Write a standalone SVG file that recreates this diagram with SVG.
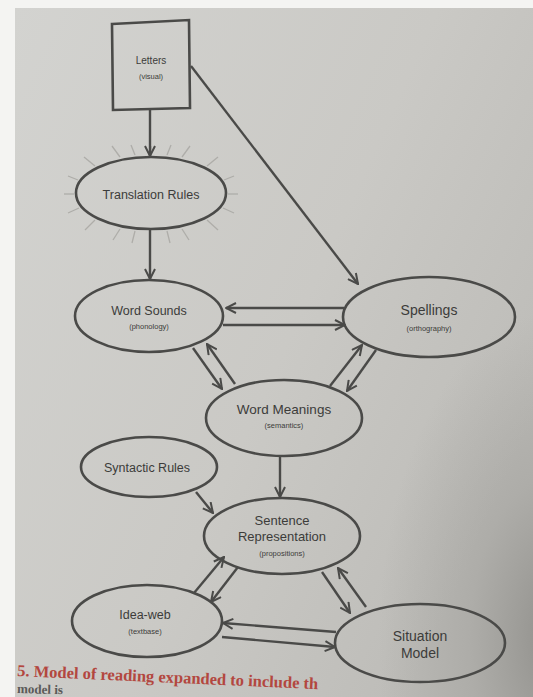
<svg xmlns="http://www.w3.org/2000/svg" width="533" height="697" viewBox="0 0 533 697">
<defs>
<linearGradient id="page" x1="0" y1="0" x2="1" y2="0.6">
<stop offset="0" stop-color="#d3d3d0"/>
<stop offset="0.6" stop-color="#cac9c5"/>
<stop offset="1" stop-color="#bdbcb8"/>
</linearGradient>
<radialGradient id="edge" gradientUnits="userSpaceOnUse" cx="560" cy="640" r="330" gradientTransform="translate(560 640) scale(0.55 1) translate(-560 -640)">
<stop offset="0" stop-color="#7e7d79" stop-opacity="0.75"/>
<stop offset="0.5" stop-color="#8a8985" stop-opacity="0.3"/>
<stop offset="1" stop-color="#8a8985" stop-opacity="0"/>
</radialGradient>
<marker id="ah" viewBox="0 0 12 12" refX="11" refY="6" markerWidth="12" markerHeight="12" markerUnits="userSpaceOnUse" orient="auto">
<path d="M1,1 L11,6 L1,11" fill="none" stroke="#4a4a48" stroke-width="2"/>
</marker>
<style>
.n{fill:none;stroke:#4a4a48;stroke-width:2.6}
.c{stroke:#4a4a48;stroke-width:2.4;fill:none;marker-end:url(#ah)}
.t{font-family:"Liberation Sans",Arial,sans-serif;fill:#3c3c3a;text-anchor:middle}
.s{font-size:7.5px}
.ray{stroke:#aeada9;stroke-width:1.3}
</style>
</defs>
<rect width="533" height="697" fill="#f4f4f2"/>
<rect x="15" y="8" width="518" height="689" fill="url(#page)"/>
<rect x="15" y="8" width="518" height="689" fill="url(#edge)"/>

<g id="letters">
<path class="n" d="M112,24 L189,20 L190,108 L113,110 Z"/>
<text class="t" x="151" y="64" font-size="10">Letters</text>
<text class="t s" x="151" y="79">(visual)</text>
</g>

<g id="translation-rules">
<g class="ray">
<line x1="151" y1="154" x2="151" y2="146"/><line x1="120" y1="157" x2="112" y2="146"/><line x1="182" y1="157" x2="190" y2="146"/>
<line x1="95" y1="166" x2="84" y2="157"/><line x1="207" y1="166" x2="218" y2="157"/><line x1="78" y1="180" x2="68" y2="176"/>
<line x1="224" y1="180" x2="234" y2="176"/><line x1="74" y1="194" x2="64" y2="194"/><line x1="228" y1="194" x2="238" y2="194"/>
<line x1="79" y1="208" x2="68" y2="213"/><line x1="223" y1="208" x2="234" y2="213"/><line x1="95" y1="220" x2="85" y2="230"/>
<line x1="207" y1="220" x2="218" y2="230"/><line x1="120" y1="229" x2="113" y2="240"/><line x1="182" y1="229" x2="189" y2="240"/>
<line x1="135" y1="231" x2="132" y2="243"/><line x1="167" y1="231" x2="170" y2="243"/><line x1="135" y1="155" x2="131" y2="145"/><line x1="167" y1="155" x2="171" y2="145"/>
</g>
<ellipse class="n" cx="151" cy="193" rx="75" ry="36"/>
<text class="t" x="151" y="199" font-size="12.5">Translation Rules</text>
</g>

<g id="word-sounds">
<ellipse class="n" cx="149" cy="316" rx="74" ry="36"/>
<text class="t" x="149" y="315" font-size="12.5">Word Sounds</text>
<text class="t s" x="149" y="329">(phonology)</text>
</g>

<g id="spellings">
<ellipse class="n" cx="429" cy="317" rx="86" ry="40"/>
<text class="t" x="429" y="315" font-size="14">Spellings</text>
<text class="t s" x="429" y="331">(orthography)</text>
</g>

<g id="word-meanings">
<ellipse class="n" cx="284" cy="418" rx="78" ry="38"/>
<text class="t" x="284" y="414" font-size="13.5">Word Meanings</text>
<text class="t s" x="284" y="428">(semantics)</text>
</g>

<g id="syntactic-rules">
<ellipse class="n" cx="149" cy="467" rx="68" ry="30"/>
<text class="t" x="147" y="472" font-size="12.5">Syntactic Rules</text>
</g>

<g id="sentence-representation">
<ellipse class="n" cx="282" cy="536" rx="78" ry="38"/>
<text class="t" x="282" y="525" font-size="13">Sentence</text>
<text class="t" x="282" y="541" font-size="13">Representation</text>
<text class="t s" x="282" y="556">(propositions)</text>
</g>

<g id="idea-web">
<ellipse class="n" cx="147" cy="621" rx="75" ry="36"/>
<text class="t" x="145" y="619" font-size="12.5">Idea-web</text>
<text class="t s" x="145" y="634">(textbase)</text>
</g>

<g id="situation-model">
<ellipse class="n" cx="420" cy="643" rx="85" ry="39"/>
<text class="t" x="420" y="641" font-size="14">Situation</text>
<text class="t" x="420" y="658" font-size="14">Model</text>
</g>

<g id="connectors">
<line class="c" x1="150" y1="110" x2="150" y2="156"/>
<line class="c" x1="150" y1="229" x2="150" y2="279"/>
<line class="c" x1="191" y1="66" x2="358" y2="284"/>
<line class="c" x1="344" y1="308" x2="226" y2="308"/>
<line class="c" x1="223" y1="325" x2="345" y2="325"/>
<line class="c" x1="193" y1="348" x2="222" y2="389"/>
<line class="c" x1="235" y1="384" x2="207" y2="344"/>
<line class="c" x1="330" y1="386" x2="362" y2="345"/>
<line class="c" x1="376" y1="350" x2="347" y2="391"/>
<line class="c" x1="280" y1="456" x2="280" y2="497"/>
<line class="c" x1="196" y1="492" x2="213" y2="513"/>
<line class="c" x1="194" y1="593" x2="224" y2="557"/>
<line class="c" x1="238" y1="567" x2="211" y2="602"/>
<line class="c" x1="322" y1="572" x2="350" y2="613"/>
<line class="c" x1="366" y1="607" x2="338" y2="568"/>
<line class="c" x1="336" y1="632" x2="223" y2="623"/>
<line class="c" x1="222" y1="637" x2="335" y2="647"/>
</g>

<g id="caption" font-family="'Liberation Serif',serif" font-weight="bold">
<text x="17" y="676" font-size="16.5" fill="#b3473f" transform="rotate(2.5 17 676)">5. Model of reading expanded to include th</text>
<text x="17" y="693" font-size="13" fill="#5a5a58" transform="rotate(1.5 17 693)">model is</text>
</g>
</svg>
